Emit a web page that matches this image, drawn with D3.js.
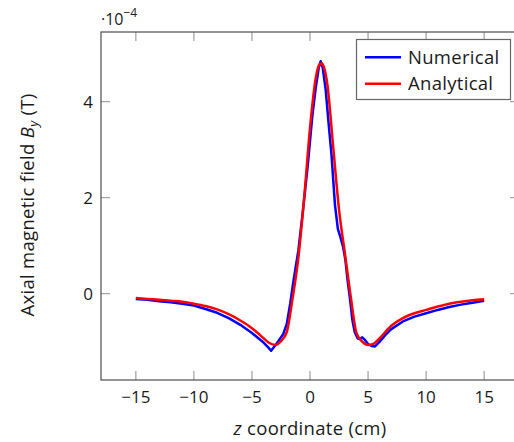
<!DOCTYPE html>
<html>

<head>
    <title>Axial magnetic field</title>
    <script src="https://d3js.org/d3.v7.min.js"></script>
    <style>
        body { margin: 0; background: #fff; }
        text { font-family: "Open Sans", "Noto Sans", sans-serif; fill: #1a1a1a; }
    </style>
</head>

<body>
    <script>
        // numerical (simulation) samples, z in cm, By in 1e-4 T
        var zNum = [-15, -14, -13, -12, -11, -10, -9, -8, -7, -6, -5, -4.5, -4, -3.6, -3.35, -3.0, -2.7, -2.3, -2.0,
            -1.7, -1.4, -1.0, -0.6, -0.2, 0.2, 0.5, 0.75, 0.92, 1.1, 1.35, 1.6, 1.85, 2.15, 2.4, 2.65, 2.85, 3.05,
            3.25, 3.45, 3.65, 3.85, 4.1, 4.3, 4.5, 4.75, 5.0, 5.3, 5.6, 6.0, 6.5, 7, 8, 9, 10, 11, 12, 13, 14, 15];
        var byNum = [-0.11, -0.13, -0.16, -0.18, -0.21, -0.25, -0.32, -0.40, -0.51, -0.65, -0.82, -0.92, -1.02, -1.12, -1.19, -1.08, -0.98, -0.84, -0.63,
            -0.2, 0.3, 0.9, 1.75, 2.65, 3.7, 4.3, 4.7, 4.84, 4.7, 4.25, 3.55, 2.9, 1.85, 1.35, 1.15, 0.97, 0.7,
            0.25, -0.12, -0.55, -0.8, -0.93, -0.95, -0.91, -0.97, -1.05, -1.09, -1.1, -1.0, -0.86, -0.74, -0.58, -0.48, -0.41, -0.34, -0.28, -0.23, -0.19, -0.15];

        // analytical solution
        var zAna = [-15, -14, -13, -12, -11, -10, -9, -8, -7, -6, -5, -4.5, -4, -3.5, -3, -2.5, -2, -1.5, -1, -0.5,
            0, 0.5, 0.8, 1.0, 1.2, 1.5, 2.0, 2.5, 3.0, 3.5, 4.0, 4.5, 5.0, 5.5, 6.0, 7, 8, 9, 10, 11, 12, 13, 14, 15];
        var byAna = [-0.09, -0.11, -0.13, -0.15, -0.17, -0.21, -0.26, -0.33, -0.43, -0.56, -0.72, -0.82, -0.93, -1.03, -1.07, -0.99, -0.8, -0.1, 0.75, 2.0,
            3.45, 4.5, 4.77, 4.8, 4.72, 4.35, 3.05, 1.75, 0.85, -0.05, -0.82, -1.0, -1.07, -1.04, -0.93, -0.67, -0.51, -0.41, -0.34, -0.27, -0.21, -0.17, -0.14, -0.12];

        var xTicks = [-15, -10, -5, 0, 5, 10, 15];
        var yTicks = [0, 2, 4];
        var legendNames = ["Numerical", "Analytical"];
        var colors = ["#0000ff", "#ff0000"];

        var width = 514, height = 442;
        // plot box edges (the right edge sits just past the window)
        var boxL = 101, boxR = 519, boxT = 32, boxB = 380;

        var svg = d3.select("body").append("svg")
            .attr("width", width)
            .attr("height", height);

        var x = d3.scaleLinear().domain([-18, 18]).range([boxL, boxR]);
        var y = d3.scaleLinear().domain([-1.8, 5.45]).range([boxB, boxT]);

        var tickLen = 9;
        var tickColor = "#a6a6a6";

        // ticks on all four sides, pointing inwards
        xTicks.forEach(function (t) {
            svg.append("line").attr("x1", x(t)).attr("x2", x(t)).attr("y1", boxB).attr("y2", boxB - tickLen)
                .style("stroke", tickColor).style("stroke-width", 1.3);
            svg.append("line").attr("x1", x(t)).attr("x2", x(t)).attr("y1", boxT).attr("y2", boxT + tickLen)
                .style("stroke", tickColor).style("stroke-width", 1.3);
            svg.append("text")
                .attr("x", x(t)).attr("y", 403)
                .attr("text-anchor", "middle")
                .style("font-size", "17px")
                .text(t < 0 ? "\u2212" + Math.abs(t) : t);
        });
        yTicks.forEach(function (t) {
            svg.append("line").attr("x1", boxL).attr("x2", boxL + tickLen).attr("y1", y(t)).attr("y2", y(t))
                .style("stroke", tickColor).style("stroke-width", 1.3);
            svg.append("line").attr("x1", boxR).attr("x2", boxR - tickLen).attr("y1", y(t)).attr("y2", y(t))
                .style("stroke", tickColor).style("stroke-width", 1.3);
            svg.append("text")
                .attr("x", 93).attr("y", y(t) + 6)
                .attr("text-anchor", "end")
                .style("font-size", "17px")
                .text(t);
        });

        // axis box
        svg.append("rect")
            .attr("x", boxL).attr("y", boxT)
            .attr("width", boxR - boxL).attr("height", boxB - boxT)
            .style("fill", "none")
            .style("stroke", "#4d4d4d")
            .style("stroke-width", 1.2);

        // curves
        var numData = zNum.map(function (z, i) { return [z, byNum[i]]; });
        var anaData = zAna.map(function (z, i) { return [z, byAna[i]]; });

        var lineNum = d3.line().x(d => x(d[0])).y(d => y(d[1])).curve(d3.curveLinear);
        var lineAna = d3.line().x(d => x(d[0])).y(d => y(d[1])).curve(d3.curveMonotoneX);

        svg.append("path").attr("d", lineNum(numData))
            .style("fill", "none").style("stroke", colors[0]).style("stroke-width", 2.5)
            .style("stroke-linejoin", "round");
        svg.append("path").attr("d", lineAna(anaData))
            .style("fill", "none").style("stroke", colors[1]).style("stroke-width", 2.5)
            .style("stroke-linejoin", "round");

        // legend
        svg.append("rect")
            .attr("x", 356.5).attr("y", 39.5)
            .attr("width", 154).attr("height", 60)
            .style("fill", "#fff")
            .style("stroke", "#666")
            .style("stroke-width", 1.2);
        legendNames.forEach(function (name, i) {
            var ly = 57.3 + i * 26.5;
            svg.append("line").attr("x1", 365).attr("x2", 401).attr("y1", ly).attr("y2", ly)
                .style("stroke", colors[i]).style("stroke-width", 2.5);
            svg.append("text")
                .attr("x", 408).attr("y", ly + 6.5)
                .style("font-size", "18.5px")
                .style("letter-spacing", "0.3px")
                .text(name);
        });

        // exponent marker
        var expo = svg.append("text").attr("x", 101).attr("y", 25).style("font-size", "16px");
        expo.append("tspan").text("\u00b710");
        expo.append("tspan").attr("dy", -8).style("font-size", "12px").text("\u22124");

        // axis labels
        var xl = svg.append("text")
            .attr("x", 310).attr("y", 435)
            .attr("text-anchor", "middle")
            .style("font-size", "18.5px")
            .style("letter-spacing", "0.3px");
        xl.append("tspan").style("font-style", "italic").text("z");
        xl.append("tspan").text(" coordinate (cm)");

        var yl = svg.append("text")
            .attr("transform", "translate(34,205) rotate(-90)")
            .attr("text-anchor", "middle")
            .style("font-size", "18.5px")
            .style("letter-spacing", "0.3px");
        yl.append("tspan").text("Axial magnetic field ");
        yl.append("tspan").style("font-style", "italic").text("B");
        yl.append("tspan").attr("dy", 4).style("font-style", "italic").style("font-size", "13px").text("y");
        yl.append("tspan").attr("dy", -4).text(" (T)");
    </script>
</body>

</html>
